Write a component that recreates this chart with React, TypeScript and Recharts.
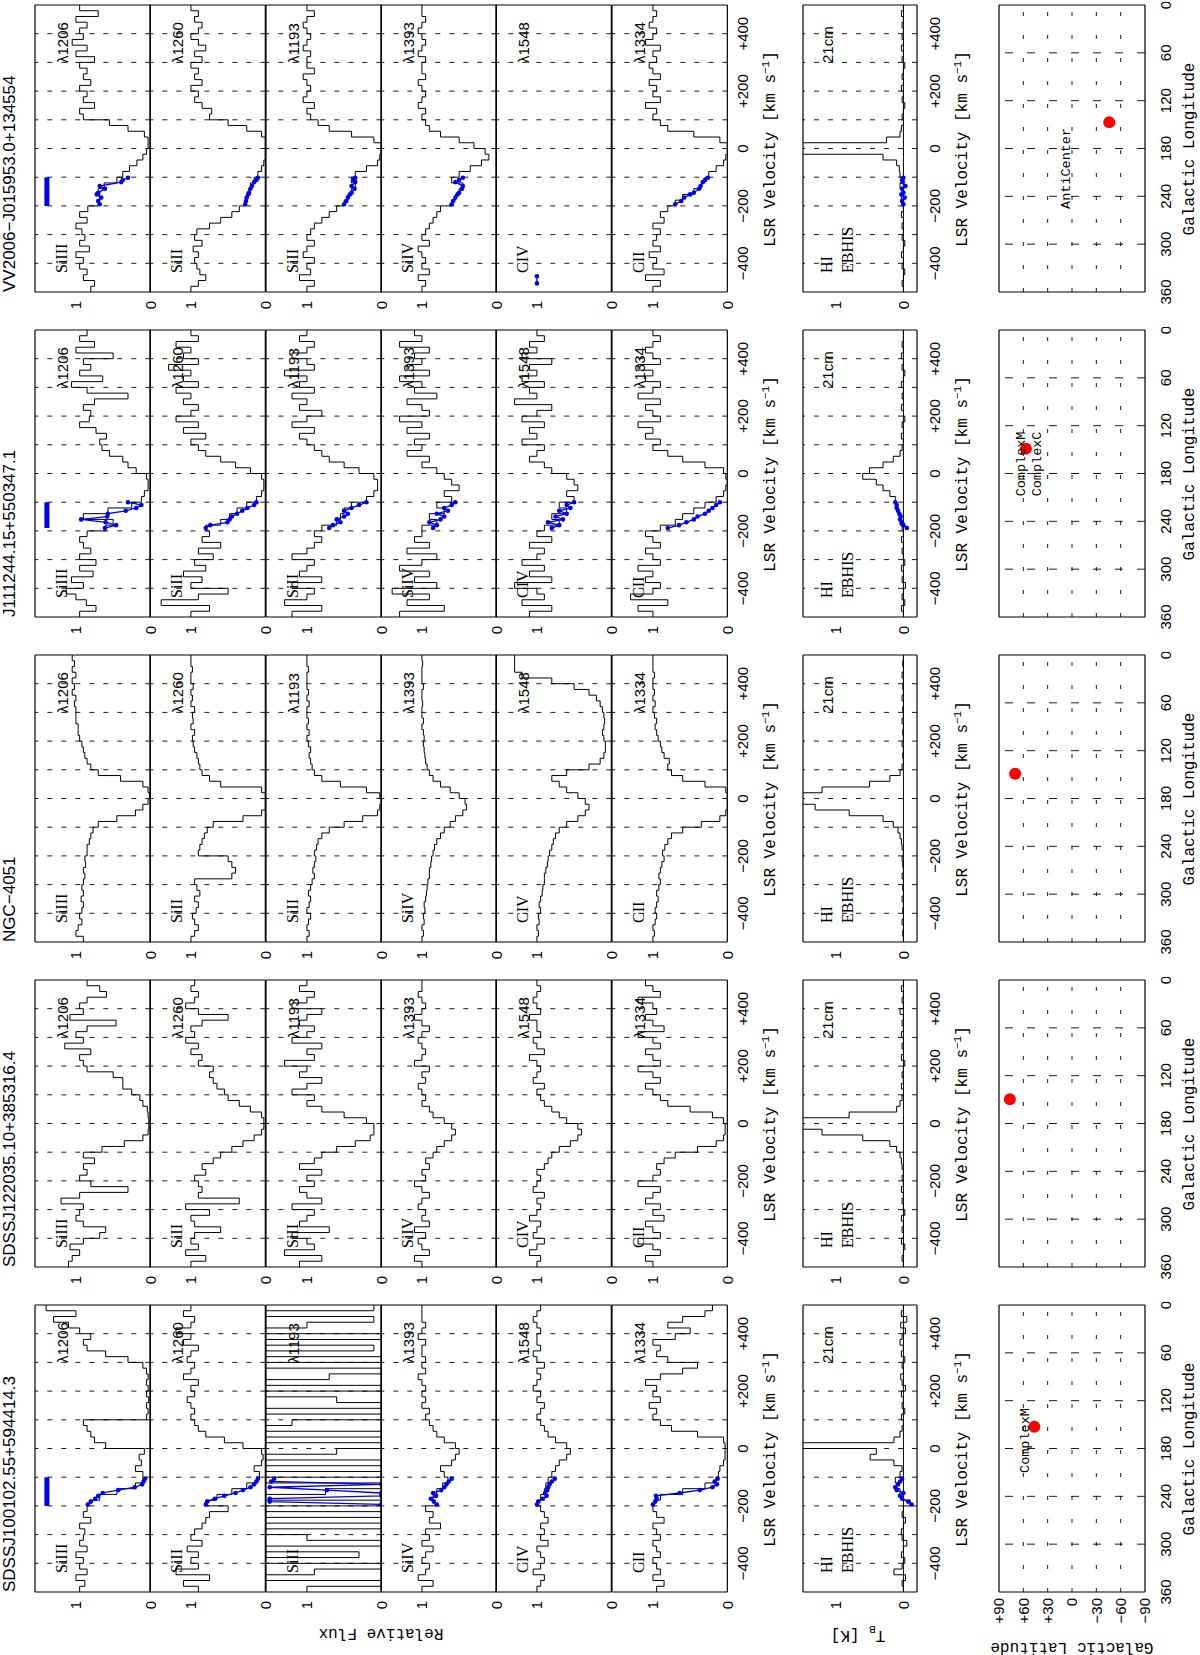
import React from 'react';
import { ComposedChart, Line, XAxis, YAxis, ReferenceLine, Scatter } from 'recharts';

// ---------------- data ----------------
const VEL = [-500,-480,-460,-440,-420,-400,-380,-360,-340,-320,-300,-280,-260,-240,-220,-200,-180,-160,-140,-120,-100,-80,-60,-40,-20,0,20,40,60,80,100,120,140,160,180,200,220,240,260,280,300,320,340,360,380,400,420,440,460,480,500];
const VEL_LABELS = [-400, -200, 0, 200, 400];
const VEL_GRID = [-400, -300, -200, -100, 0, 100, 200, 300, 400];
const VEL_MINOR = [-475,-450,-425,-400,-375,-350,-325,-300,-275,-250,-225,-200,-175,-150,-125,-100,-75,-50,-25,0,25,50,75,100,125,150,175,200,225,250,275,300,325,350,375,400,425,450,475];
const FLUX_LABELS = [0, 1];
const FLUX_MINOR = [0.1,0.2,0.3,0.4,0.5,0.6,0.7,0.8,0.9,1.0,1.1,1.2,1.3,1.4,1.5];
const TB_LABELS = [0, 1];
const TB_MINOR = [-0.1,0,0.1,0.2,0.3,0.4,0.5,0.6,0.7,0.8,0.9,1.0,1.1,1.2,1.3,1.4];
const LON_LABELS = [0, 60, 120, 180, 240, 300, 360];
const LON_GRID = [60, 120, 180, 240, 300];
const LON_MINOR = [30,60,90,120,150,180,210,240,270,300,330];
const LAT_LABELS = [-90, -60, -30, 0, 30, 60, 90];
const LAT_GRID = [-60, -30, 0, 30, 60];

const TITLES = ['SDSSJ100102.55+594414.3', 'SDSSJ122035.10+385316.4', 'NGC\u22124051', 'J111244.15+550347.1', 'VV2006\u2212J015953.0+134554'];
const IONS = ['SiIII', 'SiII', 'SiII', 'SiIV', 'CIV', 'CII'];
const LINES = ['\u03bb1206', '\u03bb1260', '\u03bb1193', '\u03bb1393', '\u03bb1548', '\u03bb1334'];

// sightline positions (Galactic l, b)
const POS_L = [152.6, 149.7, 148.9, 148.8, 147.1];
const POS_B = [46.4, 76.6, 70.1, 56.8, -45.9];

// ---- SDSSJ100102.55+594414.3
const c1_SiIII = [0.95,0.88,1.0,0.85,0.95,0.9,1.0,0.85,0.95,0.9,0.88,0.95,0.8,0.9,0.85,0.82,0.68,0.45,0.2,0.1,0.1,0.2,0.12,0.15,0.08,0.6,0.75,0.8,0.85,0.9,0.05,0.03,0.05,0.02,0.05,0.03,0.05,0.03,0.05,0.1,0.3,0.6,0.85,0.9,0.8,0.95,1.1,1.3,1.0,1.4];
const c1_SiII1260 = [0.9,1.1,0.75,1.2,0.9,1.0,0.9,1.05,0.85,1.0,0.95,0.85,0.8,0.75,0.5,0.8,0.65,0.45,0.25,0.12,0.08,0.15,0.05,0.03,0.05,0.3,0.55,0.8,0.9,0.95,1.0,0.95,1.0,1.05,0.95,1.0,0.9,1.1,1.0,0.95,1.05,1.0,0.9,1.1,1.0,1.2,1.0,0.95,1.1,1.0];
const c1_SiII1193 = [1.0,0.0,1.7,0.9,0.0,1.7,0.3,1.7,0.0,1.0,1.7,0.0,1.7,0.0,1.7,0.0,1.7,0.75,0.0,1.7,0.0,1.7,0.0,1.7,0.6,0.0,1.7,0.0,1.7,1.2,0.0,1.7,0.0,0.6,1.7,0.0,1.7,0.7,0.0,1.7,0.0,1.7,0.1,1.7,0.0,1.7,1.0,0.1,1.7,0.1];
const c1_SiIV = [1.0,0.85,1.05,0.95,0.9,1.0,0.95,0.85,1.0,0.9,0.95,0.75,0.9,0.85,0.95,0.82,0.85,0.8,0.72,0.65,0.7,0.75,0.6,0.55,0.5,0.55,0.7,0.8,0.85,0.9,0.95,0.9,1.0,0.95,1.0,0.95,1.0,1.05,0.95,1.0,0.95,1.0,1.0,0.95,1.05,1.0,0.95,1.0,1.0,1.0];
const c1_CIV = [1.0,0.95,0.9,1.05,0.95,0.9,0.95,1.0,0.85,0.95,0.9,0.95,0.85,0.9,0.95,1.0,0.95,0.9,0.88,0.85,0.8,0.75,0.7,0.6,0.55,0.6,0.75,0.85,0.9,0.95,1.0,0.95,0.9,1.0,0.95,1.05,1.0,0.95,1.0,0.9,1.0,1.05,0.95,1.0,1.0,0.95,1.0,1.05,1.0,0.95];
const c1_CII = [0.95,0.85,1.0,0.9,0.95,1.0,0.9,0.95,1.0,0.9,0.95,1.0,0.85,0.95,1.0,0.98,0.9,0.6,0.3,0.15,0.12,0.1,0.05,0.03,0.03,0.03,0.05,0.4,0.75,0.9,1.0,0.95,1.05,0.9,1.0,0.95,1.1,0.9,0.6,0.4,0.8,0.95,0.9,1.0,0.7,0.5,0.8,0.6,0.3,0.2];
const c1_HI = [0.0,0.02,-0.03,0.14,0.02,-0.02,0.03,0.0,-0.05,0.02,0.03,0.0,-0.03,0.02,0.0,-0.1,0.02,0.05,0.1,0.12,0.05,0.02,0.14,0.49,0.4,2.0,0.14,0.05,0.02,0.0,0.03,-0.02,0.02,0.0,0.03,-0.03,0.02,0.04,0.0,0.02,-0.02,0.03,0.0,0.05,0.02,-0.03,0.04,-0.05,0.03,0.0];
const c1_hvcV = [-195,-185,-175,-165,-155,-145,-135,-125,-115,-105];
const c1_hvc_SiIII = [0.84,0.8,0.74,0.7,0.64,0.43,0.21,0.11,0.09,0.07];
const c1_hvc_SiII1260 = [0.8,0.78,0.68,0.55,0.4,0.3,0.2,0.15,0.12,0.1];
const c1_hvc_SiII1193 = [0.0,1.5,1.5,0.0,0.0,0.73,1.5,0.0,1.48,1.44];
const c1_hvc_SiIV = [0.8,0.84,0.88,0.81,0.85,0.74,0.7,0.67,0.64,0.6];
const c1_hvc_CIV = [1.0,0.98,0.92,0.87,0.89,0.86,0.85,0.83,0.8,0.76];
const c1_hvc_CII = [1.0,0.97,0.95,0.96,0.64,0.37,0.2,0.14,0.17,0.13];
const c1_hvc_HI = [-0.12,-0.07,0.02,0.05,0.0,0.1,0.12,0.08,0.05,0.02];

// ---- SDSSJ122035.10+385316.4
const c2_SiIII = [1.1,1.05,0.95,1.08,0.9,0.68,0.6,0.9,1.0,0.95,0.9,1.2,0.95,0.3,0.8,0.95,0.85,0.9,0.75,0.9,0.65,0.35,0.1,0.03,0.02,0.02,0.03,0.04,0.1,0.14,0.25,0.37,0.37,0.5,0.85,0.9,0.95,0.8,1.15,0.9,1.0,0.85,0.46,1.08,0.9,0.95,0.85,0.59,0.68,0.85];
const c2_SiII1260 = [1.0,0.8,1.07,0.9,1.0,0.95,0.6,0.95,1.0,0.75,1.07,0.35,0.9,0.85,0.9,0.95,0.8,0.85,0.7,0.6,0.45,0.3,0.15,0.05,0.02,0.02,0.05,0.2,0.35,0.5,0.55,0.65,0.7,0.75,0.7,0.9,0.85,1.0,0.9,1.07,0.95,1.0,0.85,0.5,0.9,1.07,0.95,0.9,1.0,0.95];
const c2_SiII1193 = [1.1,0.8,1.3,0.9,1.0,1.2,0.7,1.1,1.0,0.9,1.2,0.8,1.0,1.1,0.9,1.0,0.8,1.1,0.9,0.8,0.6,0.35,0.15,0.1,0.1,0.2,0.5,0.8,1.0,0.9,1.2,1.0,0.8,1.1,1.0,1.3,0.9,1.0,0.8,1.2,1.0,0.9,1.1,1.0,0.8,1.2,1.0,0.9,1.1,1.0];
const c2_SiIV = [1.0,1.1,0.9,1.0,1.05,0.95,1.1,0.9,1.0,0.95,1.05,1.0,0.9,1.0,1.1,0.95,1.0,0.9,0.95,0.85,0.8,0.7,0.6,0.55,0.6,0.7,0.85,0.9,1.0,0.95,1.0,1.05,0.95,1.0,0.9,1.1,1.0,0.95,1.0,1.05,1.0,0.9,1.0,1.1,1.0,0.95,1.0,1.05,1.0,1.0];
const c2_CIV = [1.0,0.95,1.1,1.0,0.9,1.05,1.0,0.95,1.1,1.0,0.95,1.0,0.9,1.05,1.0,0.95,1.0,0.9,0.85,0.8,0.7,0.55,0.45,0.4,0.45,0.6,0.7,0.8,0.9,0.95,1.0,0.9,1.05,1.0,0.95,1.0,1.1,0.9,1.0,1.05,0.95,1.0,1.0,1.1,0.95,1.0,1.05,1.0,0.95,1.0];
const c2_CII = [1.0,1.1,0.9,1.0,1.2,0.9,1.0,1.1,0.85,1.0,0.9,1.1,1.0,0.9,1.2,1.0,0.9,0.95,0.85,0.7,0.4,0.15,0.05,0.03,0.03,0.05,0.2,0.5,0.8,0.9,1.0,1.1,0.9,1.0,1.2,0.9,1.0,1.1,0.9,1.0,1.2,0.85,1.0,1.1,0.95,1.0,1.2,0.9,1.0,1.1];
const c2_HI = [0.0,0.02,0.0,-0.02,0.03,0.0,0.02,0.0,0.03,-0.02,0.0,0.02,0.0,0.03,0.0,0.02,0.0,0.02,0.03,0.05,0.1,0.2,0.6,1.2,2.5,2.5,0.8,0.1,0.05,0.02,0.0,0.03,0.0,0.02,0.0,-0.02,0.03,0.0,0.02,0.0,0.03,0.0,0.02,0.0,0.05,0.0,0.02,0.0,0.03,0.0];

// ---- NGC-4051
const c3_SiIII = [0.9,1.0,0.97,0.92,0.95,0.92,0.9,0.93,0.9,0.92,0.9,0.88,0.9,0.87,0.88,0.85,0.85,0.82,0.8,0.77,0.7,0.45,0.2,0.1,0.03,0.01,0.03,0.1,0.4,0.7,0.8,0.85,0.88,0.9,0.92,0.95,0.97,0.97,1.0,1.0,1.0,1.02,1.0,1.05,1.02,1.05,1.0,1.05,1.02,1.05];
const c3_SiII1260 = [1.0,0.95,0.9,0.95,0.98,0.93,0.9,0.95,0.88,0.92,0.95,0.45,0.4,0.45,0.5,0.9,0.88,0.85,0.82,0.78,0.7,0.3,0.05,0.0,0.0,0.0,0.05,0.6,0.75,0.85,0.88,0.9,0.92,0.95,0.97,0.98,0.95,1.0,0.97,0.98,0.95,1.0,0.98,1.0,0.97,1.0,1.0,0.98,1.0,1.0];
const c3_SiII1193 = [1.0,0.97,1.0,0.98,0.95,1.0,0.97,0.95,0.98,0.95,0.93,0.9,0.92,0.9,0.88,0.9,0.87,0.85,0.8,0.7,0.5,0.25,0.05,0.02,0.0,0.02,0.2,0.55,0.8,0.9,0.93,0.95,0.97,0.95,0.98,1.0,0.97,1.0,0.98,1.0,1.0,0.97,1.0,0.98,1.0,1.0,1.0,0.98,1.0,1.0];
const c3_SiIV = [1.0,0.98,1.0,0.97,0.98,0.96,0.97,0.95,0.94,0.93,0.92,0.9,0.9,0.88,0.87,0.85,0.83,0.8,0.75,0.7,0.62,0.55,0.45,0.4,0.42,0.5,0.62,0.75,0.85,0.9,0.93,0.95,0.96,0.97,0.98,0.97,0.98,1.0,0.98,1.0,1.0,0.99,1.0,1.0,0.98,1.0,1.0,1.0,0.99,1.0];
const c3_CIV = [1.0,0.98,1.0,0.97,0.98,0.95,0.97,0.95,0.93,0.92,0.9,0.9,0.88,0.86,0.85,0.83,0.8,0.78,0.75,0.7,0.6,0.45,0.35,0.3,0.35,0.45,0.6,0.7,0.8,0.6,0.3,0.15,0.1,0.08,0.08,0.1,0.12,0.1,0.09,0.1,0.12,0.15,0.2,0.3,0.5,0.8,1.2,1.3,1.3,1.3];
const c3_CII = [1.0,0.98,1.0,0.97,0.95,0.97,0.95,0.93,0.95,0.92,0.9,0.92,0.9,0.88,0.85,0.87,0.84,0.8,0.75,0.6,0.35,0.1,0.02,0.0,0.0,0.0,0.02,0.3,0.6,0.75,0.8,0.78,0.85,0.88,0.9,0.93,0.95,0.97,0.95,0.98,1.0,0.97,1.0,0.98,1.0,1.0,0.98,1.0,1.0,1.0];
const c3_HI = [0.0,0.01,0.0,0.02,0.0,0.01,0.0,0.02,0.0,0.01,0.0,0.02,0.0,0.01,0.02,0.0,0.02,0.03,0.05,0.08,0.15,0.3,0.8,1.3,2.5,2.5,1.2,0.5,0.2,0.05,0.02,0.0,0.01,0.0,0.02,0.0,0.01,0.0,0.02,0.0,0.01,0.0,0.02,0.0,0.01,0.0,0.02,0.0,0.01,0.0];

// ---- J111244.15+550347.1
const c4_SiIII = [0.95,0.73,0.86,1.0,1.13,0.9,1.06,0.77,0.95,0.73,0.95,0.8,0.9,0.95,0.85,0.6,0.5,0.9,0.57,0.25,0.12,0.08,0.03,0.03,0.05,0.19,0.3,0.37,0.55,0.65,0.68,0.59,0.73,0.95,0.82,0.8,0.9,0.75,0.3,0.85,1.06,0.64,0.95,0.8,0.9,0.5,1.0,0.75,0.95,0.85];
const c4_SiII1260 = [1.0,0.75,1.4,0.9,0.5,1.0,0.85,1.1,0.8,0.95,0.7,0.9,0.6,0.85,0.75,0.8,0.6,0.48,0.38,0.25,0.12,0.05,0.02,0.02,0.05,0.2,0.4,0.6,0.8,0.9,1.0,0.8,1.1,0.9,1.2,1.0,0.9,1.1,1.0,1.2,0.9,1.1,1.0,1.3,0.9,1.1,1.0,1.2,0.9,1.0];
const c4_SiII1193 = [1.2,0.8,1.3,1.0,0.9,1.2,0.8,1.1,1.0,0.9,1.2,1.0,0.9,0.8,0.9,0.8,0.6,0.55,0.5,0.4,0.2,0.1,0.05,0.05,0.1,0.3,0.5,0.7,0.8,0.9,1.0,1.1,0.9,1.2,1.0,0.8,1.1,1.0,1.2,0.9,1.1,1.0,1.3,0.9,1.0,1.2,1.0,0.9,1.1,1.0];
const c4_SiIV = [1.3,0.7,1.2,0.9,1.4,0.8,1.1,0.9,1.3,1.0,0.8,1.2,0.9,1.1,1.0,1.0,0.8,0.9,0.7,0.8,0.6,0.7,0.5,0.6,0.7,0.8,1.0,0.9,1.2,1.0,1.1,0.9,1.2,1.0,1.3,0.9,1.0,1.2,0.8,1.1,1.0,1.3,0.9,1.2,1.0,1.1,0.9,1.3,1.0,1.1];
const c4_CIV = [1.1,0.8,1.2,0.9,1.0,1.3,0.8,1.1,0.9,1.2,1.0,0.9,1.1,0.8,1.0,0.9,0.7,0.8,0.6,0.7,0.5,0.6,0.45,0.5,0.6,0.8,0.9,1.1,1.0,0.9,1.2,1.0,1.1,0.9,1.2,1.0,0.8,1.3,1.0,1.1,0.9,1.2,1.0,1.1,0.8,1.2,1.0,1.1,0.9,1.0];
const c4_CII = [1.0,1.2,0.8,1.3,1.0,0.9,1.1,1.0,1.2,0.9,1.0,1.1,0.9,1.0,1.1,0.9,0.7,0.6,0.45,0.3,0.15,0.05,0.02,0.0,0.02,0.05,0.3,0.6,0.8,1.0,0.9,1.1,1.0,1.2,0.9,1.0,1.1,0.9,1.2,1.0,0.9,1.1,1.0,1.2,0.9,1.0,1.1,1.0,0.9,1.0];
const c4_HI = [0.0,0.03,-0.02,0.02,0.0,-0.03,0.02,0.0,0.03,-0.02,0.0,0.02,0.0,0.03,0.0,0.02,0.05,0.05,0.08,0.1,0.12,0.2,0.3,0.4,0.6,0.5,0.3,0.15,0.05,0.02,0.0,0.03,0.0,0.02,-0.02,0.0,0.03,0.0,0.02,0.0,0.03,0.0,-0.02,0.02,0.0,0.03,0.0,0.02,0.0,0.0];
const c4_hvcV = [-190,-180,-170,-160,-150,-140,-130,-120,-110,-100];
const c4_hvc_SiIII = [0.61,0.46,0.6,0.93,0.58,0.57,0.33,0.19,0.12,0.3];
const c4_hvc_SiII1260 = [0.8,0.74,0.51,0.48,0.45,0.38,0.31,0.24,0.15,0.12];
const c4_hvc_SiII1193 = [0.7,0.65,0.55,0.6,0.5,0.45,0.5,0.4,0.3,0.2];
const c4_hvc_SiIV = [0.85,0.8,0.9,0.75,0.7,0.8,0.65,0.7,0.6,0.55];
const c4_hvc_CIV = [0.8,0.7,0.85,0.65,0.75,0.6,0.7,0.55,0.6,0.5];
const c4_hvc_CII = [0.8,0.65,0.55,0.45,0.4,0.3,0.25,0.2,0.15,0.1];
const c4_hvc_HI = [-0.05,0.0,0.02,0.05,0.04,0.06,0.08,0.1,0.1,0.12];

// ---- VV2006-J015953.0+134554 (no C IV spectrum: single marker only)
const c5_SiIII = [0.8,0.75,0.9,0.85,0.95,0.9,1.0,0.82,0.95,0.88,0.92,1.0,0.85,0.95,0.84,0.7,0.68,0.7,0.62,0.45,0.37,0.28,0.18,0.1,0.05,0.03,0.03,0.08,0.3,0.55,0.9,0.95,0.75,0.9,0.85,0.95,0.8,0.9,0.85,0.95,0.75,1.0,0.85,1.05,0.9,0.95,0.85,1.0,0.7,0.95];
const c5_SiII1260 = [1.0,0.9,0.8,0.88,0.92,0.95,0.9,0.97,0.85,0.95,0.92,0.75,0.6,0.45,0.35,0.27,0.25,0.22,0.2,0.15,0.1,0.05,0.02,0.0,0.0,0.0,0.0,0.05,0.25,0.5,0.75,0.72,0.85,0.95,0.9,1.0,0.85,0.95,0.9,1.0,0.85,0.95,0.8,0.9,1.0,0.9,0.85,0.95,0.9,1.0];
const c5_SiII1193 = [1.0,0.9,1.1,0.95,1.0,0.9,1.05,1.0,0.9,1.0,0.95,0.9,0.8,0.7,0.6,0.5,0.45,0.4,0.35,0.4,0.35,0.2,0.05,0.02,0.0,0.0,0.1,0.4,0.7,0.85,0.95,1.0,0.9,1.05,1.0,0.95,1.0,1.05,0.9,1.0,1.0,0.95,1.05,1.0,0.95,1.0,1.05,1.0,0.9,1.0];
const c5_SiIV = [1.0,0.95,1.05,0.9,1.0,0.95,1.0,1.05,0.9,1.0,0.95,0.9,0.85,0.8,0.75,0.6,0.55,0.5,0.45,0.6,0.5,0.35,0.2,0.1,0.15,0.3,0.5,0.75,0.9,0.95,1.0,0.95,1.05,1.0,0.95,1.0,1.05,0.95,1.0,1.0,0.95,1.05,1.0,0.95,1.0,1.05,1.0,0.95,1.0,1.0];
const c5_CIV: number[] = [];
const c5_CII = [1.0,0.9,1.1,0.85,1.0,0.95,1.05,0.9,1.0,0.95,0.9,1.0,0.85,0.9,0.8,0.7,0.6,0.45,0.35,0.3,0.25,0.15,0.05,0.02,0.0,0.0,0.1,0.45,0.8,0.9,1.0,0.95,1.1,0.9,1.0,0.95,1.05,0.9,1.0,1.05,0.95,1.0,0.9,1.1,1.0,0.95,1.05,1.0,0.95,1.0];
const c5_HI = [0.0,0.02,0.0,-0.02,0.02,0.0,0.03,0.0,-0.02,0.02,0.0,0.02,0.0,0.03,0.0,0.02,0.03,0.02,0.05,0.03,0.05,0.06,0.1,0.3,2.5,2.5,0.25,0.05,0.03,0.0,0.02,0.0,-0.02,0.02,0.0,0.03,0.0,0.02,0.0,-0.02,0.02,0.0,0.03,0.0,0.02,0.0,0.02,0.0,0.03,0.0];
const c5_hvcV = [-194,-183,-171,-160,-154,-140,-131,-117,-110,-102];
const c5_hvc_SiIII = [0.68,0.7,0.66,0.72,0.7,0.61,0.68,0.39,0.37,0.3];
const c5_hvc_SiII1260 = [0.27,0.26,0.25,0.23,0.22,0.2,0.18,0.15,0.12,0.1];
const c5_hvc_SiII1193 = [0.5,0.47,0.45,0.42,0.4,0.36,0.4,0.35,0.38,0.35];
const c5_hvc_SiIV = [0.6,0.58,0.55,0.52,0.5,0.46,0.45,0.55,0.5,0.45];
const c5_hvc_CIV = [1.0, 1.0];
const c5_hvcV_CIV = [-470, -445];
const c5_hvc_CII = [0.7,0.62,0.58,0.5,0.45,0.38,0.36,0.33,0.3,0.26];
const c5_hvc_HI = [0.0,0.02,-0.02,0.03,0.0,0.02,-0.03,0.01,0.02,0.0];

// HVC velocity ranges (blue bar in Si III panel)
const BAR_RANGES: ([number, number] | null)[] = [[-200, -100], null, null, [-190, -100], [-200, -100]];

// map annotations (Galactic l, b of label centre)
const MAP_LABELS: { col: number; text: string; l: number; b: number }[] = [
  { col: 0, text: 'ComplexM', l: 170, b: 57 },
  { col: 3, text: 'ComplexM', l: 168, b: 62 },
  { col: 3, text: 'ComplexC', l: 168, b: 42 },
  { col: 4, text: 'AntiCenter', l: 205, b: 6 },
];

// ---------------- layout (figure drawn landscape, then rotated onto the page) ----------------
const FIG_W = 1655, FIG_H = 1200;
const COL_X = [63, 388, 713, 1038, 1363];
const PW = 287;
const ION_TOP = 35, ION_H = 115.33;
const HI_TOP = 803, HI_H = 114;
const MAP_TOP = 999, MAP_H = 146;
const FLUX_DOMAIN: [number, number] = [0, 1.55];
const TB_DOMAIN: [number, number] = [-0.2, 1.48];
const BLUE = '#0000f0';
const SANS = "'Liberation Sans', Arial, sans-serif";
const SERIF = "'Liberation Serif', 'Times New Roman', serif";
const MONO = "'Liberation Mono', 'Courier New', monospace";

const fmtSigned = (v: number) => (v > 0 ? `+${v}` : v < 0 ? `\u2212${-v}` : '0');

type SpecProps = {
  x0: number; top: number; h: number; spec: number[];
  domain: [number, number]; labels: number[]; minor: number[];
  velLabels: boolean; labelMargin?: number;
  hvcV?: number[]; hvcF?: number[]; bar?: [number, number] | null; barY?: number;
  zeroLine?: boolean;
};

function SpecPanel(p: SpecProps) {
  const M = 3, L = 40, EXTRA = 12;
  const XH = p.velLabels ? 30 : 0;
  const data = p.spec.length ? VEL.map((v, i) => ({ v, f: p.spec[Math.min(i, p.spec.length - 1)] })) : [];
  const anchor = [{ v: -500, f: p.domain[0] }, { v: 500, f: p.domain[1] }];
  const hvc = p.hvcV && p.hvcF ? p.hvcV.map((v, i) => ({ v, f: p.hvcF![i] })) : null;
  const bar = p.bar ? [{ v: p.bar[0], f: p.barY }, { v: p.bar[1], f: p.barY }] : null;
  return (
    <div style={{ position: 'absolute', left: p.x0 - M - L, top: p.top - M }}>
      <ComposedChart width={M + L + PW + M} height={M + p.h + XH + M + EXTRA} data={data}
        margin={{ top: M, right: M, bottom: M + EXTRA, left: M }}>
        <XAxis xAxisId="v" dataKey="v" type="number" domain={[-500, 500]} allowDataOverflow ticks={VEL_LABELS}
          hide={!p.velLabels} height={XH} axisLine={false} tickLine={false} tickSize={0} tickMargin={p.labelMargin ?? 10}
          tickFormatter={fmtSigned} interval={0} tick={{ fontSize: 15, fill: '#000', fontFamily: SANS }} />
        <XAxis xAxisId="vb" dataKey="v" type="number" domain={[-500, 500]} allowDataOverflow ticks={VEL_MINOR} orientation="bottom" mirror
          tickSize={4} tick={false} interval={0} axisLine={{ stroke: '#000', strokeWidth: 1.2 }} tickLine={{ stroke: '#000' }} />
        <XAxis xAxisId="vt" dataKey="v" type="number" domain={[-500, 500]} allowDataOverflow ticks={VEL_MINOR} orientation="top" mirror
          tickSize={4} tick={false} interval={0} axisLine={{ stroke: '#000', strokeWidth: 1.2 }} tickLine={{ stroke: '#000' }} />
        <YAxis yAxisId="f" dataKey="f" type="number" domain={p.domain} allowDataOverflow ticks={p.labels} width={L}
          axisLine={false} tickLine={false} tickSize={0} tickMargin={9} interval={0}
          tick={{ fontSize: 15, fill: '#000', fontFamily: SANS }} />
        <YAxis yAxisId="fl" dataKey="f" type="number" domain={p.domain} allowDataOverflow ticks={p.minor} orientation="left" mirror
          tickSize={4} tick={false} interval={0} axisLine={{ stroke: '#000', strokeWidth: 1.2 }} tickLine={{ stroke: '#000' }} />
        <YAxis yAxisId="fr" dataKey="f" type="number" domain={p.domain} allowDataOverflow ticks={p.minor} orientation="right" mirror
          tickSize={4} tick={false} interval={0} axisLine={{ stroke: '#000', strokeWidth: 1.2 }} tickLine={{ stroke: '#000' }} />
        {VEL_GRID.map((g) => (
          <ReferenceLine key={g} xAxisId="v" yAxisId="f" x={g} stroke="#000" strokeWidth={0.9} strokeDasharray="5 9" />
        ))}
        {p.zeroLine && <ReferenceLine xAxisId="v" yAxisId="f" y={0} stroke="#000" strokeWidth={1} />}
        <Line xAxisId="vb" yAxisId="fl" data={anchor} dataKey="f" stroke="none" dot={false} activeDot={false} isAnimationActive={false} />
        <Line xAxisId="vt" yAxisId="fr" data={anchor} dataKey="f" stroke="none" dot={false} activeDot={false} isAnimationActive={false} />
        {p.spec.length > 0 && <Line xAxisId="v" yAxisId="f" dataKey="f" type="stepAfter" stroke="#000" strokeWidth={1} dot={false} activeDot={false} isAnimationActive={false} />}
        {bar && <Line xAxisId="v" yAxisId="f" data={bar} dataKey="f" type="linear" stroke={BLUE} strokeWidth={5} dot={false} activeDot={false} isAnimationActive={false} />}
        {hvc && <Line xAxisId="v" yAxisId="f" data={hvc} dataKey="f" type="linear" stroke={BLUE} strokeWidth={1.3}
          dot={{ r: 2.3, fill: BLUE, stroke: BLUE, strokeWidth: 0 }} activeDot={false} isAnimationActive={false} />}
      </ComposedChart>
    </div>
  );
}

function MapPanel({ x0, col, showLat }: { x0: number; col: number; showLat: boolean }) {
  const M = 3, L = 40, XH = 30, TOPM = 12;
  const pt = [{ l: POS_L[col], b: POS_B[col] }];
  const anchor = [{ l: 0, b: -90 }, { l: 360, b: 90 }];
  return (
    <div style={{ position: 'absolute', left: x0 - M - L, top: MAP_TOP - TOPM }}>
      <ComposedChart width={M + L + PW + M} height={TOPM + MAP_H + XH + M} margin={{ top: TOPM, right: M, bottom: M, left: M }}>
        <XAxis xAxisId="l" dataKey="l" type="number" domain={[0, 360]} reversed allowDataOverflow ticks={LON_LABELS} interval={0}
          height={XH} axisLine={false} tickLine={false} tickSize={0} tickMargin={15}
          tick={{ fontSize: 15, fill: '#000', fontFamily: SANS }} />
        <XAxis xAxisId="lb" dataKey="l" type="number" domain={[0, 360]} reversed allowDataOverflow ticks={LON_MINOR} orientation="bottom" mirror
          tickSize={4} tick={false} interval={0} axisLine={{ stroke: '#000', strokeWidth: 1.2 }} tickLine={{ stroke: '#000' }} />
        <XAxis xAxisId="lt" dataKey="l" type="number" domain={[0, 360]} reversed allowDataOverflow ticks={LON_MINOR} orientation="top" mirror
          tickSize={4} tick={false} interval={0} axisLine={{ stroke: '#000', strokeWidth: 1.2 }} tickLine={{ stroke: '#000' }} />
        <YAxis yAxisId="b" dataKey="b" type="number" domain={[-90, 90]} allowDataOverflow ticks={LAT_LABELS} interval={0} width={L}
          axisLine={false} tickLine={false} tickSize={0} tickMargin={6} tickFormatter={fmtSigned}
          tick={showLat ? { fontSize: 15, fill: '#000', fontFamily: SANS } : false} />
        <YAxis yAxisId="bl" dataKey="b" type="number" domain={[-90, 90]} allowDataOverflow ticks={LAT_GRID} orientation="left" mirror
          tickSize={4} tick={false} interval={0} axisLine={{ stroke: '#000', strokeWidth: 1.2 }} tickLine={{ stroke: '#000' }} />
        <YAxis yAxisId="br" dataKey="b" type="number" domain={[-90, 90]} allowDataOverflow ticks={LAT_GRID} orientation="right" mirror
          tickSize={4} tick={false} interval={0} axisLine={{ stroke: '#000', strokeWidth: 1.2 }} tickLine={{ stroke: '#000' }} />
        {LON_GRID.map((g) => (
          <ReferenceLine key={'lo' + g} xAxisId="l" yAxisId="b" x={g} stroke="#000" strokeWidth={0.9} strokeDasharray="8 14" />
        ))}
        {LAT_GRID.map((g) => (
          <ReferenceLine key={'la' + g} xAxisId="l" yAxisId="b" y={g} stroke="#000" strokeWidth={0.9} strokeDasharray="4 19" />
        ))}
        <Line xAxisId="lb" yAxisId="bl" data={anchor} dataKey="b" stroke="none" dot={false} activeDot={false} isAnimationActive={false} />
        <Line xAxisId="lt" yAxisId="br" data={anchor} dataKey="b" stroke="none" dot={false} activeDot={false} isAnimationActive={false} />
        <Scatter xAxisId="l" yAxisId="b" data={pt} dataKey="b" isAnimationActive={false}
          shape={(s: any) => <circle cx={s.cx} cy={s.cy} r={6} fill="#ff0000" />} />
      </ComposedChart>
    </div>
  );
}

type TxtProps = { x: number; y: number; size: number; family: string; anchor?: 'start' | 'middle' | 'end'; rotate?: number; children: React.ReactNode; spacing?: number };
function Txt({ x, y, size, family, anchor = 'start', rotate = 0, children, spacing = 0 }: TxtProps) {
  const tx = anchor === 'start' ? '0%' : anchor === 'middle' ? '-50%' : '-100%';
  return (
    <div style={{
      position: 'absolute', left: x, top: y, fontSize: size, fontFamily: family, lineHeight: 1, whiteSpace: 'nowrap',
      color: '#000', letterSpacing: spacing, transform: `translate(${tx}, -50%) rotate(${rotate}deg)`, transformOrigin: rotate ? '50% 50%' : undefined,
    }}>{children}</div>
  );
}

const SPECTRA = [
  [c1_SiIII, c1_SiII1260, c1_SiII1193, c1_SiIV, c1_CIV, c1_CII, c1_HI],
  [c2_SiIII, c2_SiII1260, c2_SiII1193, c2_SiIV, c2_CIV, c2_CII, c2_HI],
  [c3_SiIII, c3_SiII1260, c3_SiII1193, c3_SiIV, c3_CIV, c3_CII, c3_HI],
  [c4_SiIII, c4_SiII1260, c4_SiII1193, c4_SiIV, c4_CIV, c4_CII, c4_HI],
  [c5_SiIII, c5_SiII1260, c5_SiII1193, c5_SiIV, c5_CIV, c5_CII, c5_HI],
];
const HVC_V: (number[][] | null)[] = [
  [c1_hvcV, c1_hvcV, c1_hvcV, c1_hvcV, c1_hvcV, c1_hvcV, c1_hvcV],
  null, null,
  [c4_hvcV, c4_hvcV, c4_hvcV, c4_hvcV, c4_hvcV, c4_hvcV, c4_hvcV],
  [c5_hvcV, c5_hvcV, c5_hvcV, c5_hvcV, c5_hvcV_CIV, c5_hvcV, c5_hvcV],
];
const HVC_F: (number[][] | null)[] = [
  [c1_hvc_SiIII, c1_hvc_SiII1260, c1_hvc_SiII1193, c1_hvc_SiIV, c1_hvc_CIV, c1_hvc_CII, c1_hvc_HI],
  null, null,
  [c4_hvc_SiIII, c4_hvc_SiII1260, c4_hvc_SiII1193, c4_hvc_SiIV, c4_hvc_CIV, c4_hvc_CII, c4_hvc_HI],
  [c5_hvc_SiIII, c5_hvc_SiII1260, c5_hvc_SiII1193, c5_hvc_SiIV, c5_hvc_CIV, c5_hvc_CII, c5_hvc_HI],
];

function Figure() {
  const items: React.ReactNode[] = [];
  COL_X.forEach((x0, c) => {
    items.push(<Txt key={'t' + c} x={x0} y={8.5} size={17} family={SANS}>{TITLES[c]}</Txt>);
    for (let i = 0; i < 6; i++) {
      const top = ION_TOP + ION_H * i;
      items.push(
        <SpecPanel key={`p${c}-${i}`} x0={x0} top={top} h={ION_H} spec={SPECTRA[c][i]} domain={FLUX_DOMAIN}
          labels={FLUX_LABELS} minor={FLUX_MINOR} velLabels={i === 5}
          hvcV={HVC_V[c] ? HVC_V[c]![i] : undefined} hvcF={HVC_F[c] ? HVC_F[c]![i] : undefined}
          bar={i === 0 ? BAR_RANGES[c] : null} barY={1.39} />
      );
      items.push(<Txt key={`il${c}-${i}`} x={x0 + 19} y={top + 27} size={16} family={SERIF}>{IONS[i]}</Txt>);
      items.push(<Txt key={`ll${c}-${i}`} x={x0 + 229} y={top + 27} size={15} family={SANS}>{LINES[i]}</Txt>);
    }
    items.push(
      <SpecPanel key={`hi${c}`} x0={x0} top={HI_TOP} h={HI_H} spec={SPECTRA[c][6]} domain={TB_DOMAIN}
        labels={TB_LABELS} minor={TB_MINOR} velLabels labelMargin={12} zeroLine
        hvcV={HVC_V[c] ? HVC_V[c]![6] : undefined} hvcF={HVC_F[c] ? HVC_F[c]![6] : undefined} />
    );
    items.push(<Txt key={`hl${c}`} x={x0 + 19} y={HI_TOP + 24} size={16} family={SERIF}>HI</Txt>);
    items.push(<Txt key={`he${c}`} x={x0 + 19} y={HI_TOP + 45} size={16} family={SERIF}>EBHIS</Txt>);
    items.push(<Txt key={`h21${c}`} x={x0 + 229} y={HI_TOP + 24} size={15} family={SANS}>21cm</Txt>);
    items.push(<Txt key={`lsr${c}`} x={x0 + 143} y={770} size={16} family={MONO} anchor="middle">LSR Velocity [km s<sup style={{ fontSize: 11 }}>{'\u22121'}</sup>]</Txt>);
    items.push(<Txt key={`lsr2${c}`} x={x0 + 143} y={962} size={16} family={MONO} anchor="middle">LSR Velocity [km s<sup style={{ fontSize: 11 }}>{'\u22121'}</sup>]</Txt>);
    items.push(<MapPanel key={`m${c}`} x0={x0} col={c} showLat={c === 0} />);
    items.push(<Txt key={`gl${c}`} x={x0 + 143} y={1190} size={16} family={MONO} anchor="middle">Galactic Longitude</Txt>);
  });
  MAP_LABELS.forEach((m, k) => {
    const x = COL_X[m.col] + PW * (1 - m.l / 360);
    const y = MAP_TOP + MAP_H * (90 - m.b) / 180;
    items.push(<Txt key={'ml' + k} x={x} y={y} size={13.5} family={MONO} anchor="middle">{m.text}</Txt>);
  });
  items.push(<Txt key="rf" x={22} y={381} size={16} family={MONO} anchor="middle" rotate={-90}>Relative Flux</Txt>);
  items.push(<Txt key="tb" x={22} y={858} size={16} family={MONO} anchor="middle" rotate={-90}>T<sub style={{ fontSize: 11 }}>B</sub> [K]</Txt>);
  items.push(<Txt key="gla" x={8} y={1072} size={16} family={MONO} anchor="middle" rotate={-90}>Galactic Latitude</Txt>);
  return <>{items}</>;
}

export default function App() {
  return (
    <div style={{ position: 'absolute', left: 0, top: 0, width: 1200, height: 1655, overflow: 'hidden', background: '#fff' }}>
      <div style={{
        position: 'absolute', left: 0, top: 0, width: FIG_W, height: FIG_H,
        transformOrigin: '0 0', transform: `translate(0px, ${FIG_W}px) rotate(-90deg)`,
      }}>
        <Figure />
      </div>
    </div>
  );
}
